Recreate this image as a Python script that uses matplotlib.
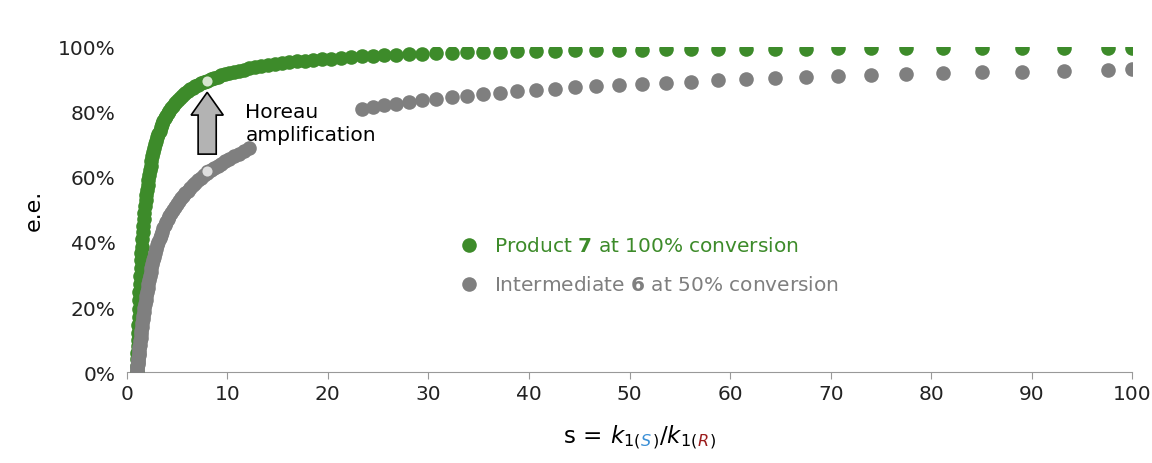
import matplotlib
matplotlib.use("Agg")
import matplotlib.pyplot as plt
from matplotlib.patches import FancyArrow

s_vals = [1.00,1.02,1.04,1.06,1.08,1.10,1.12,1.15,1.18,1.21,
          1.24,1.27,1.30,1.34,1.38,1.42,1.46,1.50,1.55,1.60,
          1.65,1.70,1.76,1.82,1.88,1.94,2.00,2.07,2.14,2.21,
          2.29,2.37,2.45,2.54,2.63,2.72,2.82,2.92,3.03,3.14,
          3.26,3.38,3.51,3.64,3.78,3.93,4.08,4.24,4.41,4.58,
          4.76,4.95,5.15,5.36,5.58,5.81,6.05,6.30,6.56,6.83,
          7.11,7.40,7.70,8.01,8.34,8.68,9.04,9.41,9.80,10.2,
          10.7,11.2,11.7,12.2,12.8,13.4,14.0,14.7,15.4,16.1,
          16.9,17.7,18.5,19.4,20.3,21.3,22.3,23.4,24.5,25.6,
          26.8,28.1,29.4,30.8,32.3,33.8,35.4,37.1,38.8,40.7,
          42.6,44.6,46.7,48.9,51.2,53.6,56.1,58.8,61.6,64.5,
          67.5,70.7,74.0,77.5,81.2,85.0,89.0,93.2,97.6,100.0]
green_ee = [0,2,4,6,8,10,12,14.5,17,19.5,
            22,24.5,27,29.5,32,34.5,36.5,38.5,41,43,
            45,47,49,51,53,54.5,56,57.5,59,60.5,
            62,63.5,65,66.3,67.6,68.8,70,71,72.2,73.2,
            74.2,75.2,76.2,77.1,78,78.8,79.6,80.4,81.2,81.9,
            82.6,83.3,84,84.6,85.2,85.8,86.3,86.9,87.4,87.9,
            88.4,88.8,89.2,89.6,90,90.4,90.8,91.2,91.5,91.9,
            92.3,92.7,93,93.4,93.7,94,94.3,94.6,94.9,95.2,
            95.5,95.7,96,96.2,96.4,96.7,96.9,97.1,97.3,97.4,
            97.6,97.8,97.9,98,98.2,98.3,98.4,98.5,98.6,98.7,
            98.8,98.9,99,99,99.1,99.2,99.2,99.3,99.3,99.4,
            99.4,99.5,99.5,99.5,99.6,99.6,99.6,99.7,99.7,99.7]
gray_ee = [0,0.6,1.2,1.8,2.4,3,3.6,4.4,5.2,6,
           6.8,7.6,8.4,9.5,10.6,11.7,12.7,13.7,15,16.2,
           17.3,18.4,19.7,21,22.2,23.4,24.5,25.8,27,28.2,
           29.5,30.8,32,33.2,34.4,35.5,36.7,37.8,39,40,
           41.1,42.2,43.2,44.2,45.2,46.2,47.1,48.1,49,49.9,
           50.8,51.7,52.5,53.4,54.2,55,55.8,56.6,57.4,58.2,
           59,59.7,60.5,61.2,62,62.7,63.4,64.1,64.8,65.5,
           66.3,67.1,67.9,68.8,None,None,None,None,None,None,
           None,None,None,None,None,None,None,81,81.5,82,
           82.5,83,83.5,84,84.5,85,85.4,85.8,86.3,86.7,
           87.1,87.5,87.9,88.3,88.6,89,89.3,89.7,90,90.3,
           90.6,90.9,91.2,91.5,91.8,92.1,92.4,92.7,93,93.3]
hl_s = 8.0
hl_green, hl_gray = 89.6, 61.8

green = "#3d8b2a"; gray = "#7f7f7f"
fig = plt.figure(figsize=(11.52, 4.64), dpi=100)
ax = fig.add_axes([0.11, 0.196, 0.873, 0.701])
gs = [s for s, v in zip(s_vals, gray_ee) if v is not None]
gv = [v for v in gray_ee if v is not None]
ax.plot(s_vals, green_ee, 'o', color=green, ms=10.5, mec='none', zorder=3)
ax.plot(gs, gv, 'o', color=gray, ms=10.5, mec='none', zorder=3)
ax.plot([hl_s], [hl_green], 'o', color="#d6e6cf", ms=8.5, mec=green, mew=1.2, zorder=4)
ax.plot([hl_s], [hl_gray], 'o', color="#dedede", ms=8.5, mec=gray, mew=1.2, zorder=4)
ax.add_patch(FancyArrow(hl_s, 67, 0, 19, width=1.8, head_width=3.2, head_length=7,
                        length_includes_head=True, fc="#b3b3b3", ec="black", lw=1.2, zorder=5))
ax.text(11.8, 76.5, "Horeau\namplification", fontsize=14.5, ha='left', va='center', linespacing=1.25)
ax.plot([34], [39], 'o', color=green, ms=10.5, mec='none', clip_on=False)
ax.plot([34], [27], 'o', color=gray, ms=10.5, mec='none', clip_on=False)
ax.text(36.5, 39, "Product $\\mathbf{7}$ at 100% conversion", color=green, fontsize=14.5, va='center')
ax.text(36.5, 27, "Intermediate $\\mathbf{6}$ at 50% conversion", color=gray, fontsize=14.5, va='center')

ax.set_xlim(0, 100); ax.set_ylim(0, 100)
ax.set_xticks(range(0, 101, 10)); ax.set_yticks(range(0, 101, 20))
ax.set_yticklabels([f"{v}%" for v in range(0, 101, 20)])
ax.tick_params(labelsize=14.5, colors="#222222")
ax.tick_params(axis='y', length=0, pad=8)
ax.tick_params(axis='x', length=5, color="#999999")
for sp in ['top', 'right', 'left']:
    ax.spines[sp].set_visible(False)
ax.spines['bottom'].set_color("#999999")
ax.set_ylabel("e.e.", fontsize=16, labelpad=10)

pieces = [("s = ", 'black', 'normal'), ("$k_{1(}$", 'black', 'normal'), ("$_{S}$", '#3a8fd6', 'normal'),
          ("$_{)}/k_{1(}$", 'black', 'normal'), ("$_{R}$", '#9b1c1c', 'normal'), ("$_{)}$", 'black', 'normal')]
fig.canvas.draw()
r = fig.canvas.get_renderer()
x = 0.49; y = 0.045
for txt, c, w in pieces:
    t = fig.text(x, y, txt, color=c, fontsize=16.5, va='baseline')
    bb = t.get_window_extent(r)
    x += bb.width / fig.bbox.width
fig.savefig("out.png")
